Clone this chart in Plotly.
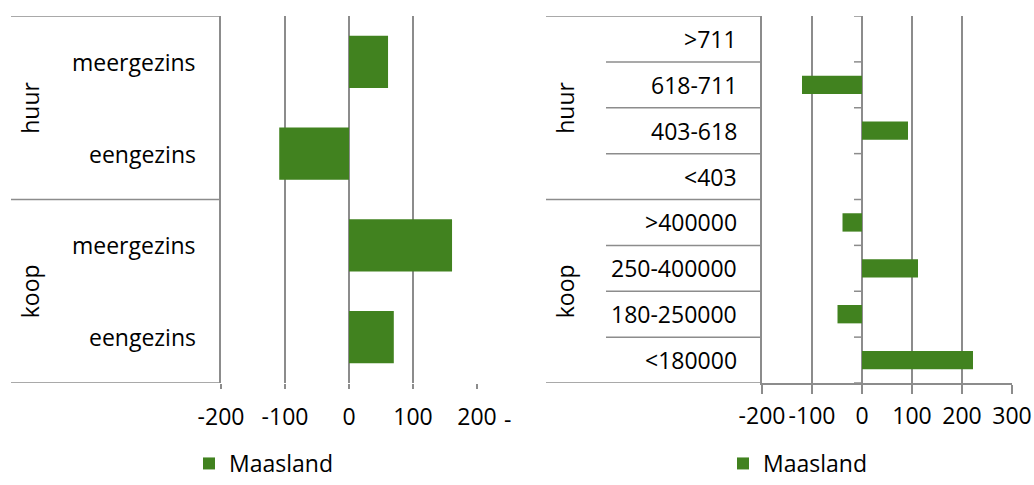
import plotly.graph_objects as go

# ---- data ----
left_groups = ["huur", "koop"]
left_categories = ["meergezins", "eengezins", "meergezins", "eengezins"]
left_values = [61, -109, 161, 70]

right_groups = ["huur", "koop"]
right_categories = [">711", "618-711", "403-618", "<403",
                    ">400000", "250-400000", "180-250000", "<180000"]
right_values = [0, -120, 92, 0, -39, 112, -49, 222]

series_name = "Maasland"
left_ticks = [-200, -100, 0, 100, 200]
right_ticks = [-200, -100, 0, 100, 200, 300]

# ---- style ----
W, H = 1034, 485
GREEN = "#41821f"
GRID = "#8c8c8c"
FONT = "Open Sans"
FS = 23

def px(x):
    """page pixel -> paper fraction"""
    return x / W

def py(y):
    return 1 - y / H

ydom = [py(383), py(16)]

fig = go.Figure()
fig.add_trace(go.Bar(
    y=list(range(len(left_values))), x=left_values, orientation="h",
    marker=dict(color=GREEN, line=dict(width=0)), width=0.57,
    name=series_name, xaxis="x", yaxis="y", legend="legend",
    hoverinfo="x"))
fig.add_trace(go.Bar(
    y=list(range(len(right_values))), x=right_values, orientation="h",
    marker=dict(color=GREEN, line=dict(width=0)), width=0.4,
    name=series_name, xaxis="x2", yaxis="y2", legend="legend2",
    hoverinfo="x"))

tickfont = dict(family=FONT, size=FS, color="#000")
axis_common = dict(
    showgrid=True, gridcolor=GRID, gridwidth=1.5, zeroline=False,
    ticks="outside", tickcolor=GRID, tickwidth=1.5, tickangle=0,
    tickfont=tickfont, automargin=False, ticklabeloverflow="allow",
)

legend_common = dict(y=0, xanchor="left", yanchor="bottom",
                     font=dict(family=FONT, size=FS, color="#000"),
                     bgcolor="rgba(0,0,0,0)", borderwidth=0)

fig.update_layout(
    template="none",
    width=W, height=H,
    margin=dict(l=0, r=0, t=0, b=0, autoexpand=False),
    paper_bgcolor="white", plot_bgcolor="white",
    font=dict(family=FONT, size=FS, color="#000"),
    bargap=0.4,
    xaxis=dict(domain=[px(221), px(477)], range=[-200, 200], tickvals=left_ticks,
               ticktext=[str(v) for v in left_ticks],
               ticklen=5, showline=False, anchor="y", ticklabelstandoff=8,
               **axis_common),
    yaxis=dict(domain=ydom, range=[len(left_values) - 0.5, -0.5], showticklabels=False,
               showgrid=False, zeroline=False, showline=True, linecolor=GRID,
               linewidth=1.5, ticks="", anchor="x", automargin=False),
    xaxis2=dict(domain=[px(762), px(1012)], range=[-200, 300], tickvals=right_ticks,
                ticktext=[str(v) for v in right_ticks],
                ticklen=9, showline=True, linecolor=GRID, linewidth=1.5, anchor="y2",
                ticklabelstandoff=3, **axis_common),
    yaxis2=dict(domain=ydom, range=[len(right_values) - 0.5, -0.5], showticklabels=False,
                showgrid=False, zeroline=False, showline=True, linecolor=GRID,
                linewidth=1.5, ticks="", anchor="x2", automargin=False),
    legend=dict(x=px(189), **legend_common),
    legend2=dict(x=px(723), **legend_common),
    showlegend=True,
)

shapes = []
annotations = []
line_style = dict(color=GRID, width=1.5)

# left panel: group boundaries and labels
n_left = len(left_categories)
per_group_left = n_left // len(left_groups)
for b in range(0, n_left + 1, per_group_left):
    shapes.append(dict(type="line", xref="paper", yref="y", x0=px(11), x1=px(221),
                       y0=b - 0.5, y1=b - 0.5, line=line_style))
for i, cat in enumerate(left_categories):
    annotations.append(dict(text=cat, xref="paper", yref="y", x=px(198), y=i,
                            xanchor="right", yanchor="middle", showarrow=False,
                            font=dict(family=FONT, size=FS, color="#000")))
for g, grp in enumerate(left_groups):
    annotations.append(dict(text=grp, xref="paper", yref="y",
                            x=px(30), y=g * per_group_left + (per_group_left - 1) / 2,
                            xanchor="center", yanchor="middle", textangle=-90,
                            showarrow=False, font=dict(family=FONT, size=FS, color="#000")))
annotations.append(dict(text="-", xref="paper", yref="paper", x=px(508), y=py(419),
                        xanchor="center", yanchor="middle", showarrow=False,
                        font=dict(family=FONT, size=FS, color="#000")))

# right panel: row boundaries, group boundaries and labels
n_right = len(right_categories)
per_group_right = n_right // len(right_groups)
for b in range(0, n_right + 1):
    x0 = px(546) if b % per_group_right == 0 else px(606)
    shapes.append(dict(type="line", xref="paper", yref="y2", x0=x0, x1=px(762),
                       y0=b - 0.5, y1=b - 0.5, line=line_style))
    shapes.append(dict(type="line", xref="x2", yref="y2", x0=-16, x1=0,
                       y0=b - 0.5, y1=b - 0.5, line=line_style))
for i, cat in enumerate(right_categories):
    annotations.append(dict(text=cat, xref="paper", yref="y2", x=px(739), y=i,
                            xanchor="right", yanchor="middle", showarrow=False,
                            font=dict(family=FONT, size=FS, color="#000")))
for g, grp in enumerate(right_groups):
    annotations.append(dict(text=grp, xref="paper", yref="y2",
                            x=px(565), y=g * per_group_right + (per_group_right - 1) / 2,
                            xanchor="center", yanchor="middle", textangle=-90,
                            showarrow=False, font=dict(family=FONT, size=FS, color="#000")))

fig.update_layout(shapes=shapes, annotations=annotations)
fig.write_html(
    "out.html",
    config={"displayModeBar": False},
    post_script="document.body.style.margin='0';document.body.style.overflow='hidden';",
)
